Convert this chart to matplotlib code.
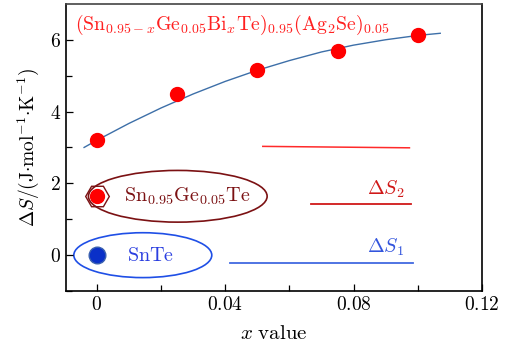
import numpy as np
import matplotlib
matplotlib.use('Agg')
import matplotlib.pyplot as plt
from matplotlib.patches import Ellipse

plt.rcParams['mathtext.fontset'] = 'cm'
plt.rcParams['font.family'] = 'serif'
plt.rcParams['font.serif'] = ['DejaVu Serif']
plt.rcParams['axes.unicode_minus'] = False

# data
x_pts = [0.0, 0.025, 0.05, 0.075, 0.1]
s_pts = [3.2, 4.5, 5.15, 5.68, 6.12]

x_fit = [-0.004, 0.0, 0.01, 0.02, 0.03, 0.04, 0.05, 0.06, 0.07, 0.08, 0.09, 0.1, 0.107]
s_fit = [3.0, 3.2, 3.67, 4.1, 4.49, 4.84, 5.15, 5.42, 5.66, 5.85, 6.0, 6.12, 6.18]

# reference levels
ds_top_x = [0.0517, 0.0974]
ds_top_y = [3.03, 2.99]
ds2_x = [0.0666, 0.0978]
ds2_y = [1.42, 1.42]
ds1_x = [0.0414, 0.0984]
ds1_y = [-0.22, -0.22]

snge_x, snge_y = 0.0, 1.65
snte_x, snte_y = 0.0, 0.0

xticks = [0, 0.04, 0.08, 0.12]
xticklabels = ['$0$', '$0.04$', '$0.08$', '$0.12$']
yticks = [0, 2, 4, 6]
yticklabels = ['$0$', '$2$', '$4$', '$6$']

fig = plt.figure(figsize=(5.1, 3.49), dpi=100)
ax = fig.add_axes([0.129, 0.166, 0.816, 0.823])

ax.plot(x_fit, s_fit, color='#3d6fa8', lw=1.0, zorder=2)
ax.plot(x_pts, s_pts, 'o', color='#ff0000', ms=10, zorder=3)

ax.plot(ds_top_x, ds_top_y, color='#ff2a2a', lw=1.1)
ax.plot(ds2_x, ds2_y, color='#d01818', lw=1.3)
ax.plot(ds1_x, ds1_y, color='#4169e1', lw=1.3)

ax.text(0.0958, 1.55, r'$\Delta S_2$', color='#d01818', fontsize=14.5, ha='right', va='bottom')
ax.text(0.0958, -0.08, r'$\Delta S_1$', color='#3355dd', fontsize=14.5, ha='right', va='bottom')

# ellipses round the two reference compounds
ax.add_patch(Ellipse((0.0252, 1.64), 0.0557, 1.44, fill=False, ec='#7b1113', lw=1.2))
ax.add_patch(Ellipse((0.0143, 0.0), 0.043, 1.25, fill=False, ec='#1f4fe6', lw=1.2))

ax.plot(snge_x, snge_y, 'H', ms=17, mfc='none', mec='#7b1113', mew=1.0)
ax.plot(snge_x, snge_y, 'o', ms=10, color='#ff0000')
ax.plot(snte_x, snte_y, 'o', ms=12, mfc='#0a30c8', mec='#3a60b0', mew=1.0)

ax.text(0.0083, 1.64, r'$\mathrm{Sn_{0.95}Ge_{0.05}Te}$', color='#7b1113', fontsize=14.5, va='center')
ax.text(0.0093, 0.0, r'$\mathrm{SnTe}$', color='#2b3fe0', fontsize=14.5, va='center')

ax.text(-0.0068, 6.42,
        r'$(\mathrm{Sn}_{0.95-x}\mathrm{Ge}_{0.05}\mathrm{Bi}_{x}\mathrm{Te})_{0.95}(\mathrm{Ag}_{2}\mathrm{Se})_{0.05}$',
        color='#ff2020', fontsize=14.3, va='center')

ax.set_xlim(-0.0097, 0.12)
ax.set_ylim(-1, 7)
ax.set_xticks(xticks)
ax.set_xticklabels(xticklabels)
ax.set_yticks(yticks)
ax.set_yticklabels(yticklabels)
ax.set_xticks([0.02, 0.06, 0.1], minor=True)
ax.set_yticks([-1, 1, 3, 5], minor=True)
ax.tick_params(which='both', direction='in', labelsize=14)
ax.tick_params(which='major', length=5, width=0.9)
ax.tick_params(which='minor', length=4, width=0.9)
ax.tick_params(right=False, top=False)
for sp in ax.spines.values():
    sp.set_linewidth(1.2)
ax.spines['top'].set_color('#444444')

ax.set_xlabel(r'$x\ \mathrm{value}$', fontsize=15, labelpad=7)
ax.set_ylabel(r'$\Delta S/(\mathrm{J{\cdot}mol^{-1}{\cdot}K^{-1}})$', fontsize=14, labelpad=6)

fig.savefig('out.png', dpi=100)
